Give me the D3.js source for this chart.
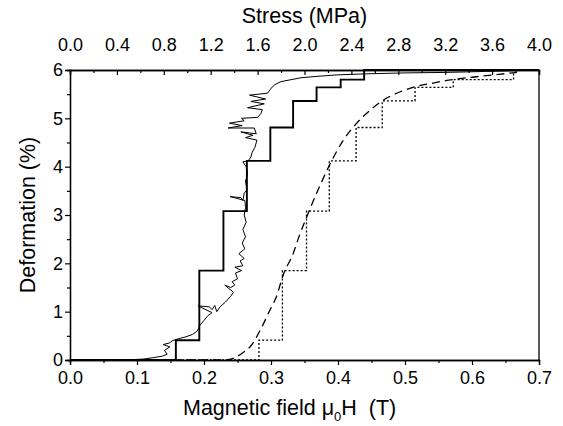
<!DOCTYPE html>
<html>
<head>
<script src="https://cdn.jsdelivr.net/npm/d3@7"></script>
<style>
body { margin: 0; background: #fff; }
text { font-family: "Liberation Sans", Arial, sans-serif; fill: #000; }
</style>
</head>
<body>
<svg id="chart" width="563" height="426"></svg>
<script>
// ---- data (field in T, deformation in %) ----
const fieldTicks = [0, 0.1, 0.2, 0.3, 0.4, 0.5, 0.6, 0.7];
const stressTicks = [0, 0.4, 0.8, 1.2, 1.6, 2.0, 2.4, 2.8, 3.2, 3.6, 4.0];
const deformTicks = [0, 1, 2, 3, 4, 5, 6];

// measured curve (thin, noisy)
const measured = [
  [0,0],[0.05,0],[0.09,0.005],[0.11,0.02],[0.125,0.05],[0.138,0.08],[0.145,0.12],
  [0.141,0.2],[0.149,0.27],[0.139,0.32],[0.148,0.35],[0.153,0.4],[0.162,0.44],
  [0.173,0.48],[0.183,0.53],[0.19,0.6],[0.194,0.72],[0.2,0.82],[0.206,0.92],
  [0.212,0.98],[0.191,1.12],[0.208,1.1],[0.212,1.04],[0.216,1.13],[0.219,1.0],
  [0.224,1.1],[0.232,1.2],[0.24,1.32],[0.244,1.4],[0.231,1.55],[0.24,1.5],
  [0.246,1.55],[0.242,1.62],[0.25,1.68],[0.247,1.8],[0.256,1.85],[0.246,1.92],
  [0.258,1.95],[0.254,2.05],[0.26,2.1],[0.252,2.2],[0.261,2.3],[0.257,2.42],
  [0.262,2.55],[0.258,2.7],[0.263,2.85],[0.26,3.0],[0.262,3.15],[0.261,3.3],
  [0.239,3.38],[0.255,3.36],[0.258,3.3],[0.26,3.45],[0.264,3.52],[0.262,3.7],
  [0.265,3.85],[0.263,4.0],[0.258,4.1],[0.266,4.12],[0.27,4.2],[0.272,4.3],
  [0.276,4.4],[0.279,4.55],[0.262,4.6],[0.273,4.65],[0.255,4.72],[0.278,4.68],
  [0.275,4.8],[0.236,4.8],[0.257,4.85],[0.238,4.9],[0.26,4.95],[0.256,5.0],
  [0.28,5.02],[0.285,5.1],[0.287,5.18],[0.265,5.22],[0.29,5.3],[0.27,5.35],
  [0.292,5.4],[0.268,5.48],[0.295,5.52],[0.3,5.62],[0.306,5.7],[0.315,5.76],
  [0.33,5.8],[0.345,5.84],[0.37,5.87],[0.4,5.9],[0.44,5.92],[0.5,5.94],
  [0.56,5.95],[0.62,5.97],[0.7,6.0]
];

// stepped model (solid) and stepped model (dotted)
const stepLevels = [0, 0.41, 1.85, 3.08, 4.12, 4.81, 5.36, 5.64, 5.80, 5.95];
const solidSteps = [0, 0.158, 0.193, 0.229, 0.264, 0.299, 0.333, 0.368, 0.404, 0.439, 0.7];
const dottedSteps = [0, 0.282, 0.317, 0.353, 0.387, 0.427, 0.466, 0.515, 0.572, 0.662, 0.662];

// smooth model (dashed)
const smooth = [
  [0,0],[0.2,0],[0.234,0.005],[0.246,0.05],[0.258,0.15],[0.271,0.31],[0.284,0.62],
  [0.299,1.05],[0.308,1.31],[0.318,1.75],[0.333,2.2],[0.343,2.6],[0.353,2.95],
  [0.368,3.45],[0.388,4.05],[0.408,4.55],[0.428,4.9],[0.448,5.17],[0.468,5.38],
  [0.493,5.55],[0.517,5.66],[0.542,5.73],[0.565,5.79],[0.6,5.85],[0.64,5.91],
  [0.667,5.95]
];

// ---- layout ----
const svg = d3.select('#chart');
const mLeft = 70, mRight = 539, mTop = 70, mBottom = 360;

const x = d3.scaleLinear().domain([0, 0.7]).range([mLeft, mRight]);
const xs = d3.scaleLinear().domain([0, 4]).range([mLeft, mRight]);
const y = d3.scaleLinear().domain([0, 6]).range([mBottom, mTop]);

function stepPoints(edges, levels) {
  const pts = [];
  for (let i = 0; i < levels.length; i++) {
    pts.push([edges[i], levels[i]]);
    pts.push([edges[i + 1], levels[i]]);
  }
  return pts;
}

const line = d3.line().x(d => x(d[0])).y(d => y(d[1]));

// right frame line
svg.append('line').attr('x1', mRight).attr('x2', mRight).attr('y1', mTop).attr('y2', mBottom)
  .attr('stroke', '#000').attr('stroke-width', 1.3);

// bottom axis
svg.append('g').attr('transform', `translate(0,${mBottom})`)
  .call(d3.axisBottom(x).tickValues(fieldTicks).tickFormat(d3.format('.1f')).tickSize(5).tickPadding(6));
svg.append('g').attr('transform', `translate(0,${mBottom})`)
  .call(d3.axisBottom(x).tickValues(d3.range(0.05, 0.7, 0.1)).tickFormat('').tickSize(3));

// top axis, ticks pointing in
svg.append('g').attr('transform', `translate(0,${mTop})`)
  .call(d3.axisTop(xs).tickValues(stressTicks).tickFormat(d3.format('.1f')).tickSize(-5).tickPadding(19));
svg.append('g').attr('transform', `translate(0,${mTop})`)
  .call(d3.axisTop(xs).tickValues(d3.range(0.2, 4, 0.4)).tickFormat('').tickSize(-3));

// left axis
svg.append('g').attr('transform', `translate(${mLeft},0)`)
  .call(d3.axisLeft(y).tickValues(deformTicks).tickFormat(d3.format('d')).tickSize(5).tickPadding(2));
svg.append('g').attr('transform', `translate(${mLeft},0)`)
  .call(d3.axisLeft(y).tickValues(d3.range(0.5, 6, 1)).tickFormat('').tickSize(3));

svg.selectAll('.domain').attr('stroke', '#000').attr('stroke-width', 1.3);
svg.selectAll('.tick line').attr('stroke', '#000').attr('stroke-width', 1.2);
svg.selectAll('.tick text').style('font-size', '18px').style('font-family', '"Liberation Sans", Arial, sans-serif');

// series
svg.append('path').datum(stepPoints(dottedSteps, stepLevels)).attr('d', line)
  .attr('fill', 'none').attr('stroke', '#000').attr('stroke-width', 1.3).attr('stroke-dasharray', '2,2');
svg.append('path').datum(smooth).attr('d', line.curve(d3.curveMonotoneX))
  .attr('fill', 'none').attr('stroke', '#000').attr('stroke-width', 1.3).attr('stroke-dasharray', '8,5');
line.curve(d3.curveLinear);
svg.append('path').datum(stepPoints(solidSteps, stepLevels.slice(0, 9).concat([6]))).attr('d', line)
  .attr('fill', 'none').attr('stroke', '#000').attr('stroke-width', 1.9);
svg.append('path').datum(measured).attr('d', line)
  .attr('fill', 'none').attr('stroke', '#000').attr('stroke-width', 1);

// titles
svg.append('text').attr('x', (mLeft + mRight) / 2).attr('y', 23).attr('text-anchor', 'middle')
  .style('font-size', '21.5px').text('Stress (MPa)');

const xt = svg.append('text').attr('x', 183).attr('y', 415).attr('text-anchor', 'start')
  .style('font-size', '21.5px');
xt.append('tspan').text('Magnetic field \u03bc');
xt.append('tspan').attr('dy', 6).style('font-size', '13px').text('0');
xt.append('tspan').attr('dy', -6).text('H\u00a0\u00a0(T)');

svg.append('text').attr('transform', `translate(35,${(mTop + mBottom) / 2}) rotate(-90)`)
  .attr('text-anchor', 'middle').style('font-size', '21.5px').text('Deformation (%)');
</script>
</body>
</html>
